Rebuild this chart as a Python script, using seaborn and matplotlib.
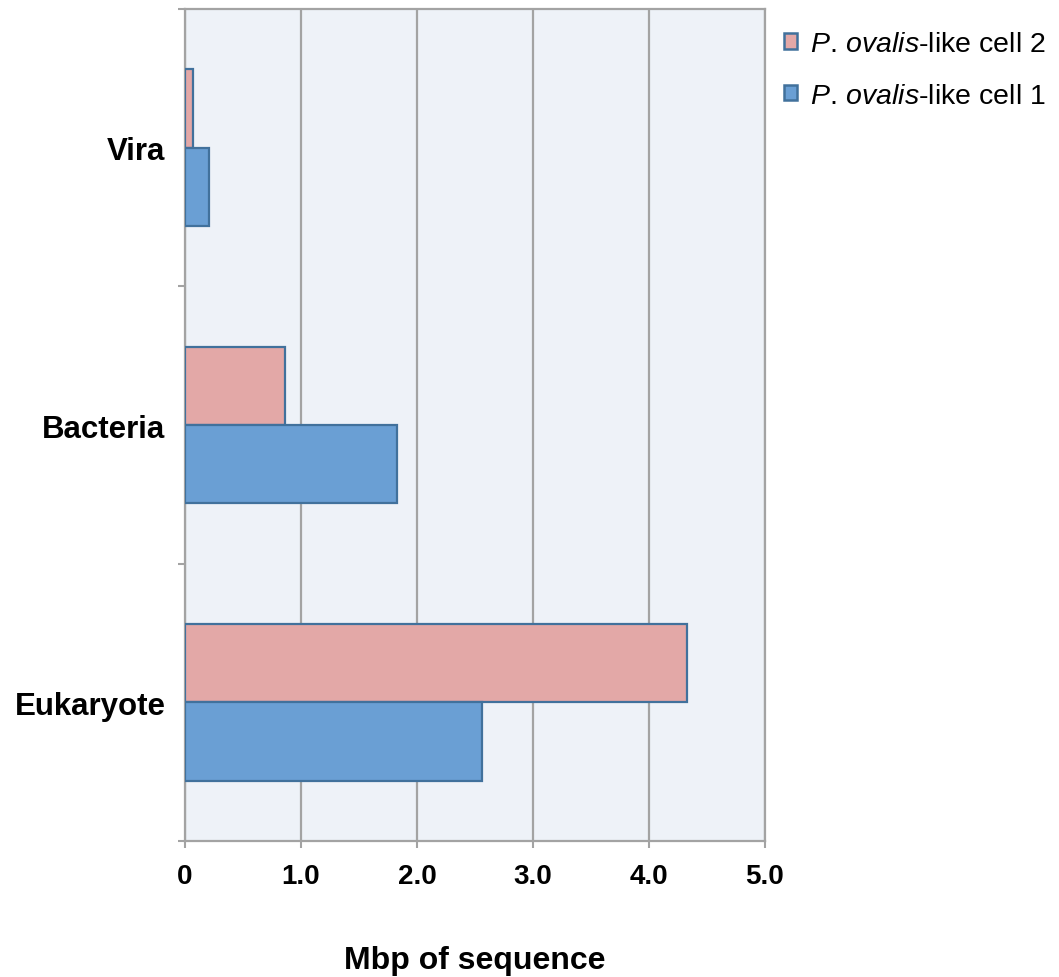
import matplotlib
matplotlib.use("Agg")
import matplotlib.pyplot as plt
import seaborn as sns
import pandas as pd
from matplotlib.patches import Patch

categories = ["Vira", "Bacteria", "Eukaryote"]
series_names = ["P. ovalis-like cell 2", "P. ovalis-like cell 1"]
cell2_values = [0.07, 0.86, 4.33]
cell1_values = [0.21, 1.83, 2.56]
xtick_values = [0, 1, 2, 3, 4, 5]
xtick_labels = ["0", "1.0", "2.0", "3.0", "4.0", "5.0"]
legend_labels = [r"$\mathit{P.\,ovalis}$-like cell 2", r"$\mathit{P.\,ovalis}$-like cell 1"]

sns.set_style("white")
plt.rcParams["font.family"] = ["Liberation Sans", "DejaVu Sans"]
plt.rcParams["text.color"] = "black"
plt.rcParams["xtick.color"] = "black"
plt.rcParams["ytick.color"] = "black"
plt.rcParams["axes.labelcolor"] = "black"
plt.rcParams["mathtext.fontset"] = "custom"
plt.rcParams["mathtext.rm"] = "Liberation Sans"
plt.rcParams["mathtext.it"] = "Liberation Sans:italic"

df = pd.DataFrame({
    "category": categories * 2,
    "series": [series_names[0]] * 3 + [series_names[1]] * 3,
    "value": cell2_values + cell1_values,
})

colors = {series_names[0]: "#E3A8A7", series_names[1]: "#6A9FD4"}
edge = "#41719C"
grid_c = "#A3A3A3"

fig = plt.figure(figsize=(10.59, 9.78), dpi=100)
ax = fig.add_axes([185 / 1059, 1 - 842 / 978, 580 / 1059, 832 / 978])
ax.set_facecolor("#EEF2F8")

sns.barplot(data=df, y="category", x="value", hue="series", order=categories,
            hue_order=series_names, palette=colors, orient="h", width=0.565,
            edgecolor=edge, linewidth=1.6, saturation=1, legend=False, ax=ax,
            zorder=3)

ax.set_xlim(0, 5)
ax.set_ylim(2.5, -0.5)
ax.set_xticks(xtick_values)
ax.set_xticklabels(xtick_labels, fontsize=20, fontweight="bold")
ax.tick_params(axis="x", bottom=True, length=5, width=1.5, color=grid_c, pad=11,
               direction="out", labelcolor="black")
ax.set_yticks([0, 1, 2])
ax.set_yticklabels(categories, fontsize=22.5, fontweight="bold")
ax.tick_params(axis="y", which="major", left=True, length=0, pad=14, labelcolor="black")
ax.set_yticks([-0.5, 0.5, 1.5, 2.5], minor=True)
ax.tick_params(axis="y", which="minor", left=True, length=5, width=1.5, color=grid_c,
               direction="out")

ax.xaxis.grid(True, color=grid_c, linewidth=1.6, zorder=0)
ax.yaxis.grid(False)
ax.set_axisbelow(True)
for s in ax.spines.values():
    s.set_color(grid_c)
    s.set_linewidth(1.6)

ax.set_ylabel("")
ax.set_xlabel("Mbp of sequence", fontsize=23, fontweight="bold", labelpad=40, color="black")

handles = [Patch(facecolor=colors[n], edgecolor=edge, linewidth=1.8) for n in series_names]
fig.legend(handles, legend_labels, loc="upper left", bbox_to_anchor=(784 / 1059, 1 - 32 / 978),
           frameon=False, fontsize=20.5, handlelength=0.45, handleheight=0.45,
           handletextpad=0.45, labelspacing=0.9, borderaxespad=0, borderpad=0)

fig.savefig("out.png", dpi=100)
